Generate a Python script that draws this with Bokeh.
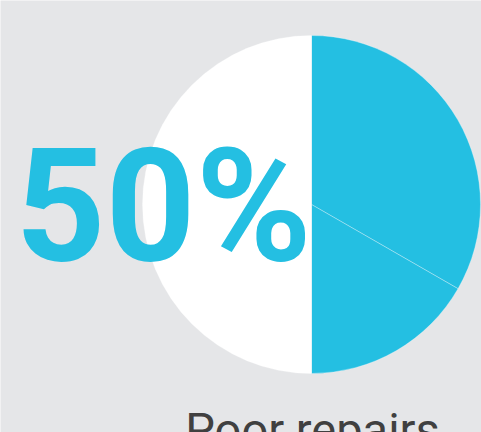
import math
from bokeh.plotting import figure
from bokeh.models import ColumnDataSource, Range1d
from bokeh.core.properties import value
from bokeh.embed import file_html
from bokeh.resources import INLINE

# data
segments = ["Poor repairs (a)", "Poor repairs (b)", "Other"]
shares = [33.3, 16.7, 50.0]
colors = ["#24bfe2", "#24bfe2", "#ffffff"]
headline = ["50%"]
caption = ["Poor repairs"]

W, H = 481, 432
BG = "#e5e6e8"

p = figure(width=W, height=H, output_backend="svg", toolbar_location=None,
           x_range=Range1d(0, W), y_range=Range1d(0, H), min_border=0)
p.axis.visible = False
p.grid.visible = False
p.outline_line_color = None
p.background_fill_color = BG
p.border_fill_color = BG

starts, ends = [], []
acc = 0.0
for s in shares:
    a0 = math.radians(90 - acc * 3.6)
    acc += s
    a1 = math.radians(90 - acc * 3.6)
    starts.append(a0)
    ends.append(a1)

src = ColumnDataSource(dict(seg=segments, share=shares, color=colors,
                            start=starts, end=ends))
cx, cy, r = 311, 228, 169
p.wedge(x=cx, y=cy, radius=r, start_angle="start", end_angle="end",
        direction="clock", fill_color="color", line_color="white",
        line_width=0.6, line_alpha=0.5, source=src)

p.text(x=[15], y=[227], text=headline, text_font=value("Roboto"),
       text_font_style="bold", text_font_size="157px", text_color="#24bfe2",
       text_align="left", text_baseline="alphabetic")

p.text(x=[cx + 1], y=[3], text=caption, text_font=value("Roboto"),
       text_font_size="47px", text_color="#404040",
       text_align="center", text_baseline="alphabetic")

open("out.html", "w").write(file_html(p, INLINE))
